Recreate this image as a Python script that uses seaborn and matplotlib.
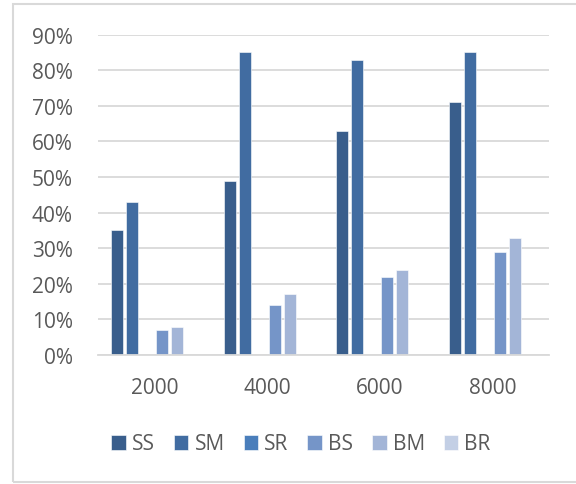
import matplotlib
matplotlib.use("Agg")
import matplotlib.pyplot as plt
import pandas as pd
import seaborn as sns
from matplotlib.patches import Rectangle
from matplotlib.ticker import PercentFormatter, MultipleLocator

# Problem sizes on the x axis
sizes = ["2000", "4000", "6000", "8000"]
# Series shown in the legend
series = ["SS", "SM", "SR", "BS", "BM", "BR"]
# Share per size for each series
ss = [0.35, 0.49, 0.63, 0.71]
sm = [0.43, 0.85, 0.83, 0.85]
sr = [0.0, 0.0, 0.0, 0.0]
bs = [0.07, 0.14, 0.22, 0.29]
bm = [0.08, 0.17, 0.24, 0.33]
br = [0.0, 0.0, 0.0, 0.0]

colors = ["#395e8c", "#416ca1", "#4a7ebb", "#7595c8", "#a3b5d7", "#c3cfe5"]
text_color = "#595959"
grid_color = "#d9d9d9"

values = {"SS": ss, "SM": sm, "SR": sr, "BS": bs, "BM": bm, "BR": br}
df = pd.DataFrame(
    [(size, name, v) for name in series for size, v in zip(sizes, values[name])],
    columns=["size", "series", "value"],
)

sns.set_theme(style="white")
plt.rcParams["font.family"] = ["Open Sans", "DejaVu Sans"]

fig = plt.figure(figsize=(5.76, 4.85), dpi=100)
ax = fig.add_axes([98 / 576, 1 - 356 / 485, 451 / 576, (356 - 35.7) / 485])

sns.barplot(
    data=df, x="size", y="value", hue="series",
    order=sizes, hue_order=series, palette=colors,
    width=0.8, gap=0.2, saturation=1,
    edgecolor="white", linewidth=0.4, ax=ax,
)

ax.set_xlim(-0.5, 3.5)
ax.set_ylim(0, 0.9)
ax.yaxis.set_major_locator(MultipleLocator(0.1))
ax.yaxis.set_major_formatter(PercentFormatter(1.0, decimals=0))
ax.set_xlabel("")
ax.set_ylabel("")
ax.grid(axis="y", color=grid_color, linewidth=1.3)
ax.set_axisbelow(True)
for side in ["left", "right", "top"]:
    ax.spines[side].set_visible(False)
ax.spines["bottom"].set_color(grid_color)
ax.spines["bottom"].set_linewidth(1.3)
ax.tick_params(axis="y", length=0, pad=18, labelsize=15, labelcolor=text_color)
ax.tick_params(axis="x", length=0, pad=16, labelsize=15, labelcolor=text_color)

handles, labels = ax.get_legend_handles_labels()
ax.get_legend().remove()
fig.legend(
    handles, labels, loc="center", bbox_to_anchor=(301 / 576, 1 - 445 / 485),
    ncol=6, frameon=False, fontsize=15, labelcolor=text_color,
    handlelength=0.7, handleheight=0.7, handletextpad=0.3, columnspacing=0.9,
)

# Chart-area border
fig.patches.append(Rectangle(
    (13 / 576, 1 - 483 / 485), 1.0, (483 - 5) / 485,
    transform=fig.transFigure, fill=False, edgecolor=grid_color, linewidth=1.5,
))

fig.savefig("out.png", dpi=100)
